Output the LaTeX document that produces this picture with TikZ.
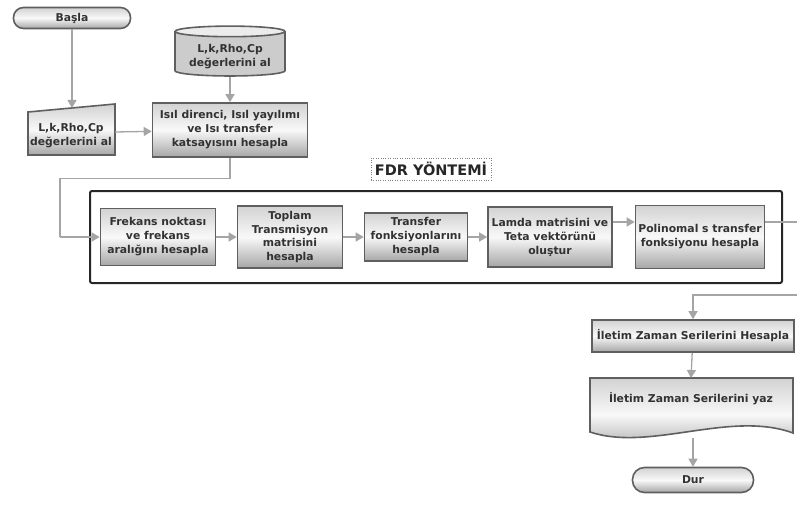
\documentclass[tikz,border=0pt]{standalone}
\usepackage{fontspec}
\setmainfont{DejaVu Sans}
\usetikzlibrary{calc}
\usetikzlibrary{arrows.meta}
\usetikzlibrary{shapes}
\usetikzlibrary{shapes.geometric}
\usetikzlibrary{positioning}
\tikzset{>=latex}
\definecolor{edgegray}{RGB}{95,95,95}
\definecolor{linegray}{RGB}{165,165,165}
\definecolor{txtgray}{RGB}{50,50,50}
\tikzstyle{shade} = [draw=edgegray, line width=1.6pt, top color=gray!35, bottom color=gray!70, middle color=gray!5]
\tikzstyle{label} = [align=center, text=txtgray, font=\bfseries\fontsize{10.8}{14}\selectfont]
\tikzstyle{box} = [rectangle, shade, label, inner sep=2pt]
\tikzstyle{term} = [box, minimum height=21pt]
\tikzstyle{flow} = [draw=linegray, line width=1.3pt, -{Triangle[width=9pt,length=8pt]}]
\tikzstyle{wire} = [draw=linegray, line width=1.3pt]

\begin{document}
\begin{tikzpicture}[x=1pt, y=-1pt]
\useasboundingbox (0,0) rectangle (797,505);
% start and input
\node [term, minimum width=117pt, rounded corners=10pt] (basla) at (72,18) {Başla};
\node [cylinder, shape border rotate=90, aspect=0.12, draw=edgegray, line width=1.6pt, cylinder uses custom fill, cylinder body fill=gray!40, cylinder end fill=gray!15, minimum width=110pt, minimum height=48pt, label] (db) at (230,55) {\\[-2pt]L,k,Rho,Cp\\değerlerini al};
\path [shade] (28,112) -- (115,104) -- (115,155) -- (28,155) -- cycle;
\node [label] (inp) at (71,136) {L,k,Rho,Cp\\değerlerini al};
\coordinate (inptop) at (72,108);
\node [box, minimum width=155pt, minimum height=54pt] (isil) at (230,130) {Isıl direnci, Isıl yayılımı\\ve Isı transfer\\katsayısını hesapla};
\draw [flow] (basla) -- (inptop);
\draw [flow] (db) -- (isil);
\draw [flow] (115,132) -- (isil);

% FDR block
\node [draw=gray, dotted, inner sep=4pt, font=\bfseries\fontsize{14.5}{16}\selectfont, text=black!85] (fdr) at (431,169) {FDR YÖNTEMİ};
\draw [black!85, line width=2pt, rounded corners=2pt] (90,191) rectangle (782,283);
\node [box, minimum width=115pt, minimum height=57pt] (frek) at (158,237) {Frekans noktası\\ve frekans\\aralığını hesapla};
\node [box, minimum width=105pt, minimum height=62pt, font=\bfseries\fontsize{10.8}{13.5}\selectfont] (topl) at (290,237) {Toplam\\Transmisyon\\matrisini\\hesapla};
\node [box, minimum width=103pt, minimum height=48pt] (trf) at (416,237) {Transfer\\fonksiyonlarını\\hesapla};
\node [box, minimum width=124pt, minimum height=60pt] (lamda) at (550,237) {Lamda matrisini ve\\Teta vektörünü\\oluştur};
\node [box, minimum width=129pt, minimum height=63pt] (poli) at (700,237) {Polinomal s transfer\\fonksiyonu hesapla};
\draw [wire] (isil.south) -- ++(0,21) -| (60,237);
\draw [flow] (60,237) -- (frek);
\draw [flow] (frek) -- (topl);
\draw [flow] (topl) -- (trf);
\draw [flow] (trf) -- (lamda);
\draw [flow] (lamda.east |- 0,222) -- (poli.west |- 0,222);
\coordinate (outR) at (797,222);
\coordinate (inR) at (797,295);
\draw [wire] (poli.east |- outR) -- (outR);

% output
\node [box, minimum width=202pt, minimum height=32pt] (ilet) at (693,336) {İletim Zaman Serilerini Hesapla};
\path [shade] (590,378) -- (793,378) -- (793,433) .. controls (730,410) and (650,452) .. (590,432) -- cycle;
\node [label] (yaz) at (691,399) {İletim Zaman Serilerini yaz};
\coordinate (yazbot) at (693,438);
\node [term, minimum width=121pt, minimum height=25pt, rounded corners=12pt] (dur) at (693,480) {Dur};
\draw [flow] (inR) -| (ilet);
\draw [flow] (ilet) -- (yaz.north |- 0,378);
\draw [flow] (yazbot) -- (dur);
\end{tikzpicture}
\end{document}
